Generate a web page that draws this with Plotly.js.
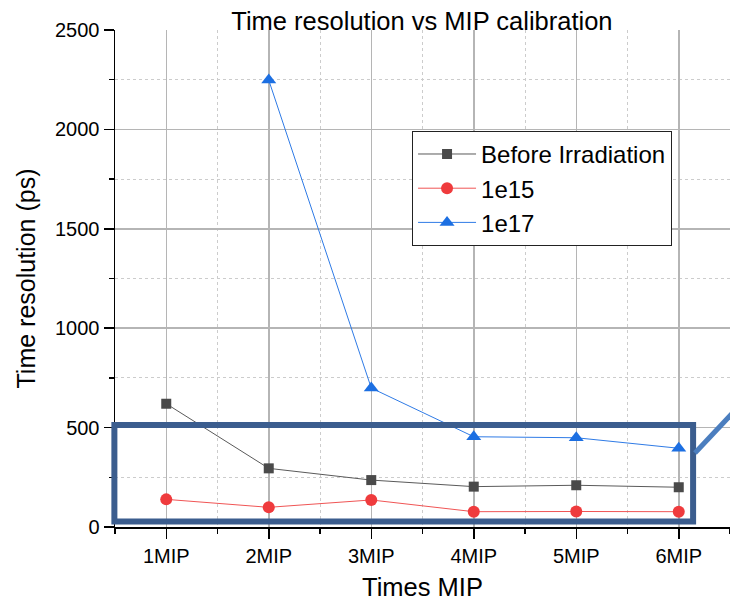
<!DOCTYPE html>
<html>
<head>
<meta charset="utf-8">
<script src="https://cdn.plot.ly/plotly-3.0.1.min.js"></script>
<style>html,body{margin:0;padding:0;background:#fff;}#chart{width:730px;height:603px;}</style>
</head>
<body>
<div id="chart"></div>
<script>
const categories = ["1MIP", "2MIP", "3MIP", "4MIP", "5MIP", "6MIP"];
const beforeIrradiation = [620, 295, 236, 203, 210, 200];
const fluence1e15 = [139, 99, 136, 77, 78, 77];
const fluence1e17 = [null, 2248, 699, 454, 449, 396];
const seriesNames = ["Before Irradiation", "1e15", "1e17"];

const xIdx = categories.map((_, i) => i);
const FONT = "Liberation Sans, Arial, sans-serif";

const traces = [
  {x: xIdx, y: beforeIrradiation, name: seriesNames[0], mode: "lines+markers",
   line: {color: "#5a5a5a", width: 1}, marker: {symbol: "square", size: 10, color: "#4a4a4a"}},
  {x: xIdx, y: fluence1e15, name: seriesNames[1], mode: "lines+markers",
   line: {color: "#f05555", width: 1}, marker: {symbol: "circle", size: 12, color: "#ef3b3d"}},
  {x: xIdx, y: fluence1e17, name: seriesNames[2], mode: "lines+markers",
   line: {color: "#2f7be6", width: 1}, marker: {symbol: "triangle-up", size: 13, color: "#1c6fe2"}}
];

const layout = {
  width: 730, height: 603,
  margin: {l: 115, r: 0, t: 30, b: 76},
  paper_bgcolor: "#fff", plot_bgcolor: "#fff",
  font: {family: FONT, color: "#000"},
  title: {text: "Time resolution vs MIP calibration", font: {size: 25.5, family: FONT, color: "#000"},
          x: 0.578, xanchor: "center", y: 0.965, yanchor: "middle"},
  showlegend: true,
  legend: {x: 0.483, y: 0.797, xanchor: "left", yanchor: "top", bgcolor: "#fff",
           bordercolor: "#222", borderwidth: 1, font: {size: 24, family: FONT, color: "#000"},
           tracegroupgap: 0, itemwidth: 58},
  xaxis: {
    range: [-0.5, 5.5], tickmode: "array", tickvals: xIdx, ticktext: categories,
    showline: true, linecolor: "#000", linewidth: 1.5,
    ticks: "outside", ticklen: 10, tickwidth: 1.5, tickcolor: "#000",
    tickfont: {size: 20, family: FONT, color: "#000"},
    showgrid: true, gridcolor: "#b5b5b5", gridwidth: 1.5,
    minor: {tick0: -0.5, dtick: 1, ticks: "outside", ticklen: 5, tickwidth: 1.5, tickcolor: "#000",
            showgrid: true, gridcolor: "#cccccc", gridwidth: 1, griddash: "dot"},
    zeroline: false,
    title: {text: "Times MIP", font: {size: 25.5, family: FONT, color: "#000"}, standoff: 12}
  },
  yaxis: {
    range: [0, 2500], tickmode: "linear", tick0: 0, dtick: 500,
    showline: true, linecolor: "#000", linewidth: 1.5,
    ticks: "outside", ticklen: 10, tickwidth: 1.5, tickcolor: "#000",
    tickfont: {size: 20, family: FONT, color: "#000"},
    showgrid: true, gridcolor: "#b5b5b5", gridwidth: 1.5,
    minor: {tick0: 250, dtick: 500, ticks: "outside", ticklen: 5, tickwidth: 1.5, tickcolor: "#000",
            showgrid: true, gridcolor: "#cccccc", gridwidth: 1, griddash: "dot"},
    zeroline: false,
    title: {text: "Time resolution (ps)", font: {size: 25, family: FONT, color: "#000"}, standoff: 12}
  },
  shapes: [
    {type: "rect", xref: "paper", yref: "paper", x0: -0.001, x1: 0.940, y0: 0.011, y1: 0.205,
     line: {color: "#3b5d8e", width: 6}, fillcolor: "rgba(0,0,0,0)", layer: "above"},
    {type: "line", xref: "paper", yref: "paper", x0: 0.943, y0: 0.149, x1: 1.01, y1: 0.237,
     line: {color: "#4b7ebf", width: 5}, layer: "above"}
  ]
};

Plotly.newPlot("chart", traces, layout, {displayModeBar: false, staticPlot: true});
</script>
</body>
</html>
